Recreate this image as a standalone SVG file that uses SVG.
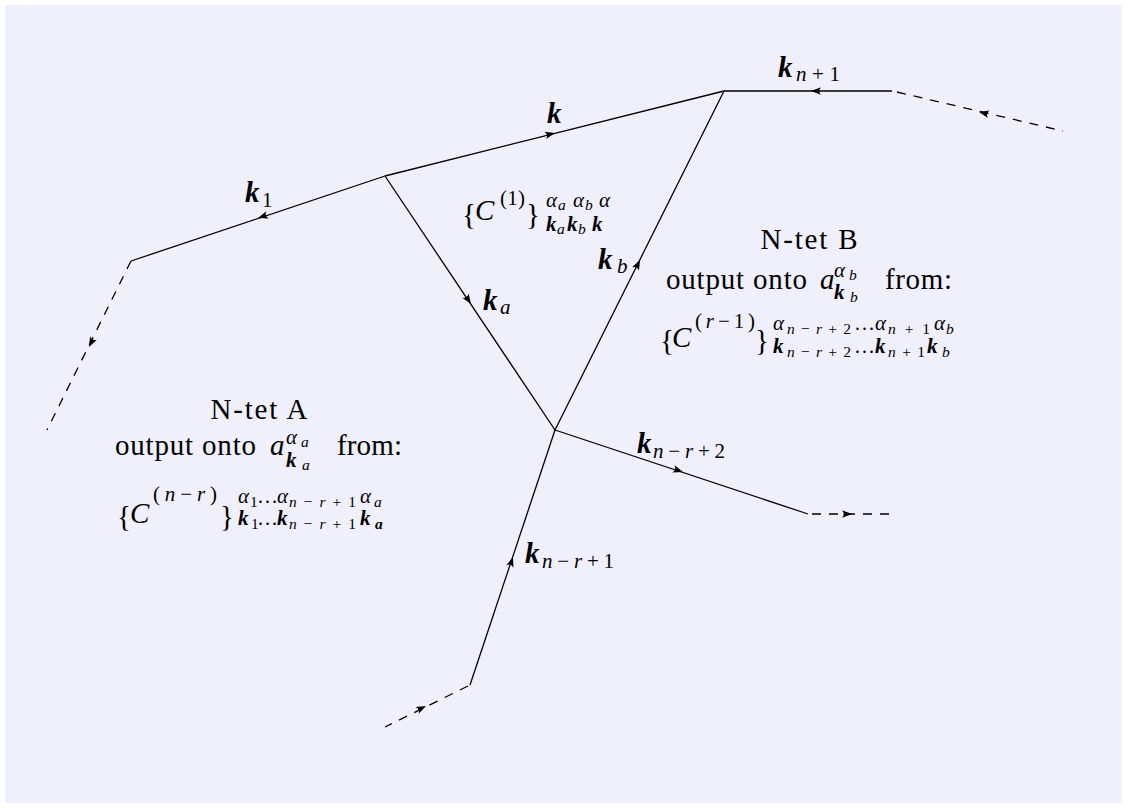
<svg xmlns="http://www.w3.org/2000/svg" width="1127" height="808" viewBox="0 0 1127 808">
<style>
text{font-family:"Liberation Serif","Times New Roman",serif;fill:#000}
.rm{font-size:29px}
.mi{font-size:29px;font-style:italic}
.bk{font-size:29px;font-style:italic;font-weight:bold}
.s{font-size:21px}
.ss{font-size:15.5px}
.it{font-style:italic}
.bi{font-style:italic;font-weight:bold}
.ln{fill:none;stroke:#000;stroke-width:1.3;stroke-linejoin:round}
.dash{stroke-dasharray:9 8}
</style>
<defs>
<path id="ah" d="M0,0 L-10,-3.8 Q-6.5,0 -10,3.8 Z" fill="#000"/>
</defs>
<rect x="5" y="5" width="1117" height="798" fill="#f0f0fc"/>
<g id="connectors">
<path class="ln" d="M131,261 L385,176 L724,91 L892,91"/>
<path class="ln" d="M385,176 L555,430 L724,91"/>
<path class="ln" d="M555,430 L808,514"/>
<path class="ln" d="M555,430 L470,685"/>
<path class="ln dash" d="M897,92 L1063,131"/>
<path class="ln dash" d="M131,261 L47,430"/>
<path class="ln dash" d="M812,514 L890,514"/>
<path class="ln dash" d="M468,686 L385,727"/>
<use href="#ah" transform="translate(258,218) rotate(161.5)"/>
<use href="#ah" transform="translate(555,133) rotate(-14.07)"/>
<use href="#ah" transform="translate(811,91) rotate(180)"/>
<use href="#ah" transform="translate(979,112) rotate(193)"/>
<use href="#ah" transform="translate(89,347) rotate(116.4)"/>
<use href="#ah" transform="translate(471,304) rotate(56.2)"/>
<use href="#ah" transform="translate(640,260) rotate(-63.5)"/>
<use href="#ah" transform="translate(683,472) rotate(18.4)"/>
<use href="#ah" transform="translate(852,514) rotate(0)"/>
<use href="#ah" transform="translate(513,557) rotate(-71.6)"/>
<use href="#ah" transform="translate(426,706) rotate(-26.3)"/>
</g>
<g id="label-k1">
<text class="bk" x="245" y="202">k</text>
<text class="s" x="262" y="207">1</text>
</g>
<g id="label-k">
<text class="bk" x="547" y="123">k</text>
</g>
<g id="label-kn1">
<text class="bk" x="778" y="77">k</text>
<text class="s" x="796" y="81" textLength="44"><tspan class="it">n</tspan>+1</text>
</g>
<g id="label-ka">
<text class="bk" x="483" y="310">k</text>
<text class="s it" x="500" y="314">a</text>
</g>
<g id="label-kb">
<text class="bk" x="598" y="269">k</text>
<text class="s it" x="617" y="273">b</text>
</g>
<g id="label-knr2">
<text class="bk" x="637" y="453">k</text>
<text class="s" x="653" y="458" textLength="72"><tspan class="it">n</tspan>−<tspan class="it">r</tspan>+2</text>
</g>
<g id="label-knr1">
<text class="bk" x="525" y="563">k</text>
<text class="s" x="542" y="568" textLength="72"><tspan class="it">n</tspan>−<tspan class="it">r</tspan>+1</text>
</g>
<g id="formula-c1">
<text class="rm" x="462" y="224">{</text>
<text class="mi" x="475" y="220">C</text>
<text class="s" x="500" y="205" textLength="25">(1)</text>
<text class="rm" x="526" y="224">}</text>
<text class="s it" x="546" y="207">α</text>
<text class="ss it" x="558" y="210">a</text>
<text class="s it" x="573" y="207">α</text>
<text class="ss it" x="585" y="210">b</text>
<text class="s it" x="599" y="207">α</text>
<text class="s bi" x="546" y="231">k</text>
<text class="ss it" x="557" y="234">a</text>
<text class="s bi" x="567" y="231">k</text>
<text class="ss it" x="578" y="234">b</text>
<text class="s bi" x="592" y="231">k</text>
</g>
<g id="ntet-b">
<text class="rm" x="809" y="249" text-anchor="middle" textLength="97">N-tet B</text>
<text class="rm" x="666" y="289" textLength="141">output onto</text>
<text class="mi" x="820" y="289">a</text>
<text class="s it" x="834" y="277">α</text>
<text class="ss it" x="849" y="280">b</text>
<text class="s bi" x="834" y="299">k</text>
<text class="ss it" x="850" y="302">b</text>
<text class="rm" x="885" y="289" textLength="67">from:</text>
<text class="rm" x="660" y="350">{</text>
<text class="mi" x="672" y="347">C</text>
<text class="s" x="695" y="328" textLength="60">(<tspan class="it">r</tspan>−1)</text>
<text class="rm" x="755" y="350">}</text>
<text class="s it" x="773" y="330">α</text>
<text class="ss" x="787" y="334" textLength="64"><tspan class="it">n</tspan>−<tspan class="it">r</tspan>+2</text>
<text class="s" x="854" y="330" textLength="17">…</text>
<text class="s it" x="875" y="330">α</text>
<text class="ss" x="888" y="334" textLength="42"><tspan class="it">n</tspan>+1</text>
<text class="s it" x="934" y="330">α</text>
<text class="ss it" x="946" y="334">b</text>
<text class="s bi" x="773" y="353">k</text>
<text class="ss" x="787" y="357" textLength="64"><tspan class="it">n</tspan>−<tspan class="it">r</tspan>+2</text>
<text class="s" x="854" y="353" textLength="17">…</text>
<text class="s bi" x="875" y="353">k</text>
<text class="ss" x="888" y="357" textLength="37"><tspan class="it">n</tspan>+1</text>
<text class="s bi" x="927" y="353">k</text>
<text class="ss it" x="942" y="357">b</text>
</g>
<g id="ntet-a">
<text class="rm" x="259" y="419" text-anchor="middle" textLength="97">N-tet A</text>
<text class="rm" x="115" y="455" textLength="141">output onto</text>
<text class="mi" x="270" y="455">a</text>
<text class="s it" x="286" y="444">α</text>
<text class="ss it" x="301" y="447">a</text>
<text class="s bi" x="286" y="467">k</text>
<text class="ss it" x="302" y="470">a</text>
<text class="rm" x="337" y="455" textLength="65">from:</text>
<text class="rm" x="117" y="526">{</text>
<text class="mi" x="130" y="523">C</text>
<text class="s" x="153" y="501" textLength="64">(<tspan class="it">n</tspan>−<tspan class="it">r</tspan>)</text>
<text class="rm" x="220" y="526">}</text>
<text class="s it" x="238" y="503">α</text>
<text class="ss" x="250" y="507">1</text>
<text class="s" x="257" y="503" textLength="15">…</text>
<text class="s it" x="277" y="503">α</text>
<text class="ss" x="289" y="507" textLength="67"><tspan class="it">n</tspan>−<tspan class="it">r</tspan>+1</text>
<text class="s it" x="360" y="503">α</text>
<text class="ss it" x="374" y="507">a</text>
<text class="s bi" x="238" y="525">k</text>
<text class="ss" x="251" y="529">1</text>
<text class="s" x="257" y="525" textLength="15">…</text>
<text class="s bi" x="277" y="525">k</text>
<text class="ss" x="289" y="529" textLength="67"><tspan class="it">n</tspan>−<tspan class="it">r</tspan>+1</text>
<text class="s bi" x="360" y="525">k</text>
<text class="ss bi" x="375" y="529">a</text>
</g>
</svg>
